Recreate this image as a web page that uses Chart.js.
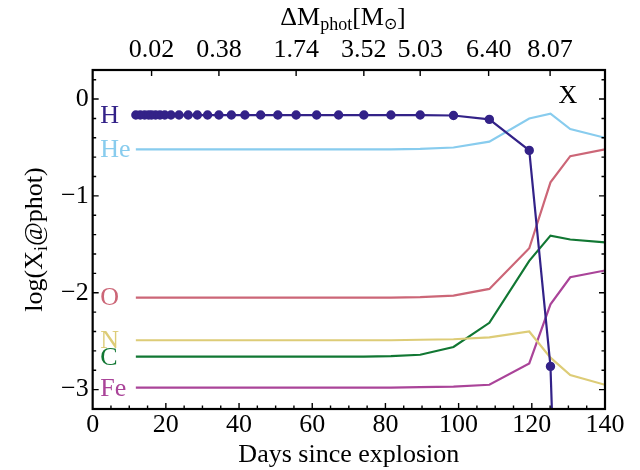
<!DOCTYPE html>
<html><head><meta charset="utf-8">
<script src="https://cdn.jsdelivr.net/npm/chart.js@4.4.0/dist/chart.umd.min.js"></script>
<style>html,body{margin:0;padding:0;background:#fff}#wrap{width:640px;height:470px}</style>
</head><body><div id="wrap"><canvas id="c" width="640" height="470"></canvas></div>
<script>
// model epochs (days since explosion)
const days = [11.8, 13.0, 14.2, 15.3, 16.1, 17.2, 18.4, 19.7, 21.4, 23.6, 26.1, 28.6, 31.4, 34.5, 37.9, 41.6, 45.9, 50.6, 55.6, 61.2, 67.2, 74.1, 81.5, 89.5, 98.6, 108.4, 119.3, 125.1, 130.5, 140];
// log mass fractions at the photosphere
const H  = [-0.165,-0.165,-0.165,-0.165,-0.165,-0.165,-0.165,-0.165,-0.165,-0.165,-0.165,-0.165,-0.165,-0.165,-0.165,-0.165,-0.165,-0.165,-0.165,-0.165,-0.165,-0.165,-0.165,-0.165,-0.17,-0.21,-0.53,-2.76,-9.0,-10.0];
const He = [-0.52,-0.52,-0.52,-0.52,-0.52,-0.52,-0.52,-0.52,-0.52,-0.52,-0.52,-0.52,-0.52,-0.52,-0.52,-0.52,-0.52,-0.52,-0.52,-0.52,-0.52,-0.52,-0.52,-0.515,-0.50,-0.44,-0.20,-0.15,-0.31,-0.40];
const O  = [-2.05,-2.05,-2.05,-2.05,-2.05,-2.05,-2.05,-2.05,-2.05,-2.05,-2.05,-2.05,-2.05,-2.05,-2.05,-2.05,-2.05,-2.05,-2.05,-2.05,-2.05,-2.05,-2.05,-2.045,-2.03,-1.96,-1.54,-0.86,-0.59,-0.52];
const N  = [-2.49,-2.49,-2.49,-2.49,-2.49,-2.49,-2.49,-2.49,-2.49,-2.49,-2.49,-2.49,-2.49,-2.49,-2.49,-2.49,-2.49,-2.49,-2.49,-2.49,-2.49,-2.49,-2.49,-2.485,-2.48,-2.46,-2.40,-2.67,-2.85,-2.95];
const C  = [-2.66,-2.66,-2.66,-2.66,-2.66,-2.66,-2.66,-2.66,-2.66,-2.66,-2.66,-2.66,-2.66,-2.66,-2.66,-2.66,-2.66,-2.66,-2.66,-2.66,-2.66,-2.66,-2.655,-2.64,-2.56,-2.31,-1.67,-1.41,-1.45,-1.48];
const Fe = [-2.98,-2.98,-2.98,-2.98,-2.98,-2.98,-2.98,-2.98,-2.98,-2.98,-2.98,-2.98,-2.98,-2.98,-2.98,-2.98,-2.98,-2.98,-2.98,-2.98,-2.98,-2.98,-2.98,-2.975,-2.97,-2.95,-2.73,-2.12,-1.84,-1.77];
const seriesNames = ['H','He','O','N','C','Fe'];
const seriesData = [H, He, O, N, C, Fe];
const seriesColors = ['#332288','#88CCEE','#CC6677','#DDCC77','#117733','#AA4499'];
// top axis: mass above photosphere
const topTickDays = [16.1, 34.5, 55.6, 74.1, 89.5, 108.2, 125.0];
const topTickLabels = ['0.02','0.38','1.74','3.52','5.03','6.40','8.07'];
const panelLabel = 'X';

const FAM = "'Liberation Serif','Times New Roman',serif";
const FS = 26;
const font = {family: FAM, size: FS, lineHeight: 1.0};

function drawRuns(ctx, runs, x, y, align){
  let w = 0;
  runs.forEach(r => { ctx.font = r[1] + 'px ' + FAM; r.w = ctx.measureText(r[0]).width; w += r.w; });
  let cx = align === 'center' ? x - w/2 : x;
  ctx.textAlign = 'left'; ctx.textBaseline = 'alphabetic';
  runs.forEach(r => { ctx.font = r[1] + 'px ' + FAM; ctx.fillText(r[0], cx, y + r[2]); cx += r.w; });
}

const decor = {
  id: 'decor',
  afterDatasetsDraw(chart){
    const {ctx, chartArea: a, scales} = chart;
    const x = scales.x, y = scales.y, x2 = scales.x2;
    ctx.save();
    // series labels
    ctx.font = '26px ' + FAM; ctx.textAlign = 'left'; ctx.textBaseline = 'middle';
    seriesNames.forEach((n, i) => {
      ctx.fillStyle = seriesColors[i];
      ctx.fillText(n, x.getPixelForValue(2.1), y.getPixelForValue(seriesData[i][0]) + 1);
    });
    ctx.fillStyle = '#000';
    ctx.fillText(panelLabel, x.getPixelForValue(127.3), y.getPixelForValue(0.03));
    // inward ticks
    ctx.strokeStyle = '#000'; ctx.lineWidth = 1.4; ctx.beginPath();
    x.ticks.forEach(t => {
      const px = x.getPixelForValue(t.value);
      if (px <= a.left + 1 || px >= a.right - 1) return;
      const L = Math.abs(t.value % 20) < 1e-6 ? 6 : 3.5;
      ctx.moveTo(px, a.bottom); ctx.lineTo(px, a.bottom - L);
    });
    y.ticks.forEach(t => {
      const py = y.getPixelForValue(t.value);
      if (py <= a.top + 1 || py >= a.bottom - 1) return;
      const L = Math.abs(t.value - Math.round(t.value)) < 1e-6 ? 6 : 3.5;
      ctx.moveTo(a.left, py); ctx.lineTo(a.left + L, py);
      ctx.moveTo(a.right, py); ctx.lineTo(a.right - L, py);
    });
    x2.ticks.forEach(t => {
      const px = x2.getPixelForValue(t.value);
      ctx.moveTo(px, a.top); ctx.lineTo(px, a.top + 6);
    });
    ctx.stroke();
    ctx.lineWidth = 2.2;
    ctx.strokeRect(a.left, a.top, a.right - a.left, a.bottom - a.top);
    // titles with subscripts
    ctx.fillStyle = '#000';
    drawRuns(ctx, [['\u0394M', FS, 0], ['phot', 18, 5], ['[M', FS, 0], ['\u2299', 16, 4], [']', FS, 0]], 343, 25, 'center');
    ctx.translate(42, (a.top + a.bottom) / 2);
    ctx.rotate(-Math.PI / 2);
    drawRuns(ctx, [['log(X', FS, 0], ['i', 18, 5], ['@phot)', FS, 0]], 0, 0, 'center');
    ctx.restore();
  }
};

const datasets = seriesNames.map((n, i) => ({
  label: n,
  data: days.map((d, k) => ({x: d, y: seriesData[i][k]})),
  borderColor: seriesColors[i],
  backgroundColor: seriesColors[i],
  borderWidth: 2.2,
  pointRadius: n === 'H' ? 3.6 : 0,
  pointHoverRadius: 0,
  tension: 0,
  xAxisID: 'x', yAxisID: 'y'
}));

new Chart(document.getElementById('c'), {
  type: 'line',
  data: {datasets},
  options: {
    responsive: false, animation: false, devicePixelRatio: 1,
    layout: {padding: {left: 57, right: 35, top: 30, bottom: 2}},
    plugins: {legend: {display: false}, tooltip: {enabled: false}},
    scales: {
      x: {type: 'linear', position: 'bottom', min: 0, max: 140,
        grid: {display: false, drawTicks: false}, border: {display: false},
        ticks: {stepSize: 5, autoSkip: false, maxRotation: 0, includeBounds: false, color: '#000', font, padding: 3,
          callback: v => Math.abs(v % 20) < 1e-6 ? String(v) : ''},
        title: {display: true, text: 'Days since explosion', color: '#000', font, padding: {top: 1, bottom: 0}}},
      x2: {type: 'linear', position: 'top', min: 0, max: 140,
        grid: {display: false, drawTicks: false}, border: {display: false},
        afterBuildTicks: s => { s.ticks = topTickDays.map(v => ({value: v})); },
        ticks: {autoSkip: false, maxRotation: 0, color: '#000', font, padding: 7,
          callback: (v, i) => topTickLabels[i]}},
      y: {type: 'linear', position: 'left', min: -3.2, max: 0.3,
        grid: {display: false, drawTicks: false}, border: {display: false},
        ticks: {stepSize: 0.2, autoSkip: false, includeBounds: false, color: '#000', font, padding: 4,
          callback: v => { if (Math.abs(v - Math.round(v)) > 1e-6) return ''; const r = Math.round(v); return r < 0 ? '\u2212' + Math.abs(r) : String(r); }}}
    }
  },
  plugins: [decor]
});
</script></body></html>
